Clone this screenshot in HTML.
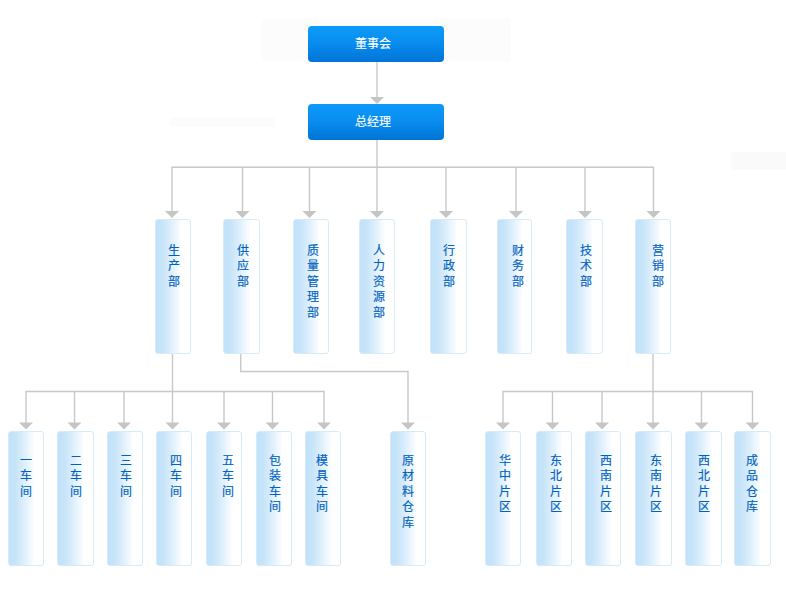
<!DOCTYPE html>
<html lang="zh-CN"><head><meta charset="utf-8"><style>
html,body{margin:0;padding:0;background:#fff;width:786px;height:592px;overflow:hidden;position:relative}
body{font-family:"Liberation Sans",sans-serif}
svg{position:absolute;left:0;top:0}
.tb{position:absolute;width:136px;height:35.5px;border-radius:4px;background:linear-gradient(to bottom,#0b9bfa 0%,#0a8ef0 45%,#0074d6 100%);color:#fff;font-size:12px;line-height:35.5px}
.tb span{position:absolute;-webkit-text-stroke:0.12px #fff}
.b{position:absolute;box-sizing:border-box;border-radius:3px;border:1px solid #d6eaf8;background:linear-gradient(to right,#c1e2f9 0%,#c6e4f9 18%,#d9edfb 40%,#f0f8fe 62%,#ffffff 76%,#ffffff 100%)}
.t{position:absolute;width:16px;text-align:center;color:#0062c0;-webkit-text-stroke:0.15px #0062c0;font-size:12px;line-height:15.5px}
</style></head><body>
<div style="position:absolute;left:731px;top:152px;width:55px;height:18px;background:#fafafa"></div>
<div style="position:absolute;left:262px;top:19px;width:249px;height:42px;background:#fcfcfc"></div>
<div style="position:absolute;left:170px;top:117px;width:105px;height:10px;background:#fcfcfc"></div>
<svg width="786" height="592" viewBox="0 0 786 592"><path d="M377 61.5V97 M377 139.5V167.25 M171.3 167.25H654.2 M172 167.25V212 M242.5 167.25V212 M309.5 167.25V212 M377 167.25V212 M446 167.25V212 M516 167.25V212 M585 167.25V212 M653.5 167.25V212 M172.5 353.5V391.5 M25.3 391.5H324.7 M240.75 353.5V371.5 M240.05 371.5H408.7 M653 353.5V391.5 M502.3 391.5H753.2 M26 391.5V424 M74.5 391.5V424 M124 391.5V424 M172.5 391.5V424 M224 391.5V424 M272.5 391.5V424 M324 391.5V424 M408 371.5V424 M503 391.5V424 M552.5 391.5V424 M602 391.5V424 M653 391.5V424 M701.5 391.5V424 M752.5 391.5V424" stroke="#c8c8c8" stroke-width="1.4" fill="none"/><g fill="#c5c5c5"><polygon points="370,97 384,97 377,104"/><polygon points="165,211 179,211 172,218"/><polygon points="235.5,211 249.5,211 242.5,218"/><polygon points="302.5,211 316.5,211 309.5,218"/><polygon points="370,211 384,211 377,218"/><polygon points="439,211 453,211 446,218"/><polygon points="509,211 523,211 516,218"/><polygon points="578,211 592,211 585,218"/><polygon points="646.5,211 660.5,211 653.5,218"/><polygon points="19,422.5 33,422.5 26,429.5"/><polygon points="67.5,422.5 81.5,422.5 74.5,429.5"/><polygon points="117,422.5 131,422.5 124,429.5"/><polygon points="165.5,422.5 179.5,422.5 172.5,429.5"/><polygon points="217,422.5 231,422.5 224,429.5"/><polygon points="265.5,422.5 279.5,422.5 272.5,429.5"/><polygon points="317,422.5 331,422.5 324,429.5"/><polygon points="401,422.5 415,422.5 408,429.5"/><polygon points="496,422.5 510,422.5 503,429.5"/><polygon points="545.5,422.5 559.5,422.5 552.5,429.5"/><polygon points="595,422.5 609,422.5 602,429.5"/><polygon points="646,422.5 660,422.5 653,429.5"/><polygon points="694.5,422.5 708.5,422.5 701.5,429.5"/><polygon points="745.5,422.5 759.5,422.5 752.5,429.5"/></g></svg>
<div class="tb" style="left:308px;top:26px"><span style="left:47px;top:0.5px">董事会</span></div>
<div class="tb" style="left:308px;top:104px"><span style="left:46.5px;top:0.5px">总经理</span></div>
<div class="b" style="left:154.5px;top:219px;width:36.5px;height:134.5px"></div>
<div class="t" style="left:165.6px;top:243.5px">生<br>产<br>部</div>
<div class="b" style="left:222.5px;top:219px;width:37px;height:134.5px"></div>
<div class="t" style="left:234.7px;top:243.5px">供<br>应<br>部</div>
<div class="b" style="left:292.5px;top:219px;width:36.5px;height:134.5px"></div>
<div class="t" style="left:304.5px;top:243.5px">质<br>量<br>管<br>理<br>部</div>
<div class="b" style="left:358.5px;top:219px;width:36.5px;height:134.5px"></div>
<div class="t" style="left:370.5px;top:243.5px">人<br>力<br>资<br>源<br>部</div>
<div class="b" style="left:429.75px;top:219px;width:36.75px;height:134.5px"></div>
<div class="t" style="left:440.6px;top:243.5px">行<br>政<br>部</div>
<div class="b" style="left:496.5px;top:219px;width:35.5px;height:134.5px"></div>
<div class="t" style="left:509.70000000000005px;top:243.5px">财<br>务<br>部</div>
<div class="b" style="left:566.0px;top:219px;width:36.5px;height:134.5px"></div>
<div class="t" style="left:577.5px;top:243.5px">技<br>术<br>部</div>
<div class="b" style="left:635.0px;top:219px;width:36.25px;height:134.5px"></div>
<div class="t" style="left:649.7px;top:243.5px">营<br>销<br>部</div>
<div class="b" style="left:7.5px;top:431px;width:36.5px;height:134.5px"></div>
<div class="t" style="left:17.6px;top:453.5px">一<br>车<br>间</div>
<div class="b" style="left:57.25px;top:431px;width:36.75px;height:134.5px"></div>
<div class="t" style="left:67.6px;top:453.5px">二<br>车<br>间</div>
<div class="b" style="left:107.0px;top:431px;width:35.5px;height:134.5px"></div>
<div class="t" style="left:118.4px;top:453.5px">三<br>车<br>间</div>
<div class="b" style="left:155.75px;top:431px;width:35.75px;height:134.5px"></div>
<div class="t" style="left:168.4px;top:453.5px">四<br>车<br>间</div>
<div class="b" style="left:205.75px;top:431px;width:36.0px;height:134.5px"></div>
<div class="t" style="left:219.5px;top:453.5px">五<br>车<br>间</div>
<div class="b" style="left:256.0px;top:431px;width:35.5px;height:134.5px"></div>
<div class="t" style="left:267.4px;top:453.5px">包<br>装<br>车<br>间</div>
<div class="b" style="left:305.0px;top:431px;width:35.5px;height:134.5px"></div>
<div class="t" style="left:314.4px;top:453.5px">模<br>具<br>车<br>间</div>
<div class="b" style="left:389.5px;top:431px;width:36px;height:134.5px"></div>
<div class="t" style="left:400.4px;top:453.5px">原<br>材<br>料<br>仓<br>库</div>
<div class="b" style="left:484.5px;top:431px;width:36.5px;height:134.5px"></div>
<div class="t" style="left:496.5px;top:453.5px">华<br>中<br>片<br>区</div>
<div class="b" style="left:535.75px;top:431px;width:36.25px;height:134.5px"></div>
<div class="t" style="left:547.5px;top:453.5px">东<br>北<br>片<br>区</div>
<div class="b" style="left:585.0px;top:431px;width:36.0px;height:134.5px"></div>
<div class="t" style="left:597.5px;top:453.5px">西<br>南<br>片<br>区</div>
<div class="b" style="left:634.5px;top:431px;width:37.5px;height:134.5px"></div>
<div class="t" style="left:648.4px;top:453.5px">东<br>南<br>片<br>区</div>
<div class="b" style="left:685.0px;top:431px;width:37.0px;height:134.5px"></div>
<div class="t" style="left:696.4px;top:453.5px">西<br>北<br>片<br>区</div>
<div class="b" style="left:734.25px;top:431px;width:36.75px;height:134.5px"></div>
<div class="t" style="left:744px;top:453.5px">成<br>品<br>仓<br>库</div>
</body></html>
